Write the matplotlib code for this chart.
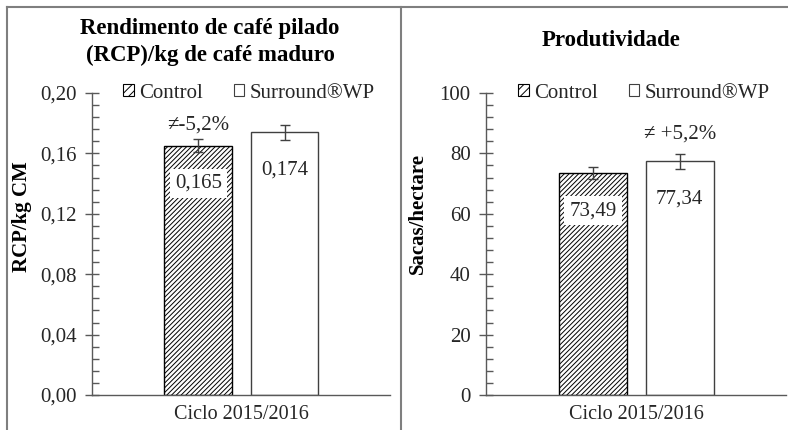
import matplotlib
matplotlib.use("Agg")
import matplotlib.pyplot as plt
from matplotlib.lines import Line2D
from matplotlib.patches import Patch
from matplotlib.ticker import MultipleLocator, FuncFormatter

plt.rcParams['font.family'] = ['Liberation Serif', 'DejaVu Serif']
plt.rcParams['hatch.linewidth'] = 0.7

# data
cycle = ["Ciclo 2015/2016"]
series = ["Control", "Surround®WP"]

rcp_vals = [0.165, 0.174]
rcp_err = [0.0044, 0.005]
rcp_labels = ["0,165", "0,174"]
rcp_note = "≠-5,2%"

prod_vals = [73.49, 77.34]
prod_err = [2.1, 2.5]
prod_labels = ["73,49", "77,34"]
prod_note = "≠ +5,2%"

TXT = '#262626'
AXC = '#595959'
FS = 15
HATCH = '///////'


def comma(fmt):
    return FuncFormatter(lambda v, p: (fmt % v).replace('.', ','))


def draw_panel(ax, vals, errs, labels, note, note_idx, note_off, ymax, major, fmt,
               ylabel, ylab_xy):
    offsets = [-0.143, 0.146]
    width = 0.228
    styles = [dict(facecolor='white', hatch=HATCH, edgecolor='black'),
              dict(facecolor='white', hatch='', edgecolor='#404040')]
    for i in range(2):
        ax.bar(offsets[i], vals[i], width, yerr=errs[i], linewidth=1.0,
               error_kw=dict(ecolor='#404040', elinewidth=1.0, capsize=3.5, capthick=1.0),
               zorder=2, **styles[i])
        ax.annotate(labels[i], (offsets[i], vals[i]), xytext=(0, -27),
                    textcoords='offset points', ha='center', va='center',
                    fontsize=FS, color=TXT, zorder=4,
                    bbox=dict(boxstyle='square,pad=0.25', fc='white', ec='none'))
    ax.annotate(note, (offsets[note_idx], vals[note_idx] + errs[note_idx]),
                xytext=(0, note_off), textcoords='offset points', ha='center', va='center',
                fontsize=FS, color=TXT)

    ax.set_xlim(-0.5, 0.5)
    ax.set_ylim(0, ymax)
    ax.set_xticks([0])
    ax.set_xticklabels(cycle)
    ax.yaxis.set_major_locator(MultipleLocator(major))
    ax.yaxis.set_minor_locator(MultipleLocator(major / 5))
    ax.yaxis.set_major_formatter(comma(fmt))
    ax.tick_params(axis='y', which='major', direction='inout', length=10, width=1.0,
                   color=AXC, labelsize=FS, labelcolor=TXT, pad=6)
    ax.tick_params(axis='y', which='minor', direction='in', length=5, width=1.0, color=AXC)
    ax.tick_params(axis='x', length=0, labelsize=14.5, labelcolor=TXT, pad=7)
    for s in ['top', 'right']:
        ax.spines[s].set_visible(False)
    for s in ['left', 'bottom']:
        ax.spines[s].set_color(AXC)
        ax.spines[s].set_linewidth(1.0)
        ax.spines[s].set_zorder(3)
    ax.set_ylabel(ylabel, fontsize=FS, fontweight='bold', color='black')
    ax.yaxis.set_label_coords(*ylab_xy)

    handles = [Patch(facecolor='white', edgecolor='black', hatch='////', linewidth=0.8),
               Patch(facecolor='white', edgecolor='#404040', linewidth=0.8)]
    ax.legend(handles, series, loc='center', bbox_to_anchor=(0.527, 1.0), ncol=2,
              frameon=False, fontsize=FS, handlelength=0.5, handleheight=0.5,
              handletextpad=0.25, columnspacing=1.5, labelcolor=TXT)


fig = plt.figure(figsize=(7.88, 4.30), dpi=100)

ax1 = fig.add_axes([92 / 788, 1 - 395 / 430, 298 / 788, 302 / 430])
ax2 = fig.add_axes([486 / 788, 1 - 395 / 430, 300 / 788, 302 / 430])

draw_panel(ax1, rcp_vals, rcp_err, rcp_labels, rcp_note, 0, 10, 0.20, 0.04, '%.2f',
           'RCP/kg CM', (-0.20, 0.59))
draw_panel(ax2, prod_vals, prod_err, prod_labels, prod_note, 1, 14.5, 100, 20, '%.0f',
           'Sacas/hectare', (-0.195, 0.60))

fig.text(210 / 788, 1 - 42 / 430, "Rendimento de café pilado\n(RCP)/kg de café maduro",
         ha='center', va='center', fontsize=16.5, fontweight='bold', linespacing=1.38)
fig.text(611 / 788, 1 - 40 / 430, "Produtividade",
         ha='center', va='center', fontsize=16.5, fontweight='bold')

# panel frame lines
bc = '#7f7f7f'
fig.add_artist(Line2D([7 / 788, 1], [1 - 7 / 430, 1 - 7 / 430], color=bc, lw=1.5))
fig.add_artist(Line2D([7 / 788, 7 / 788], [0, 1 - 7 / 430], color=bc, lw=1.5))
fig.add_artist(Line2D([401 / 788, 401 / 788], [0, 1 - 7 / 430], color=bc, lw=1.5))

fig.savefig("out.png", dpi=100)
